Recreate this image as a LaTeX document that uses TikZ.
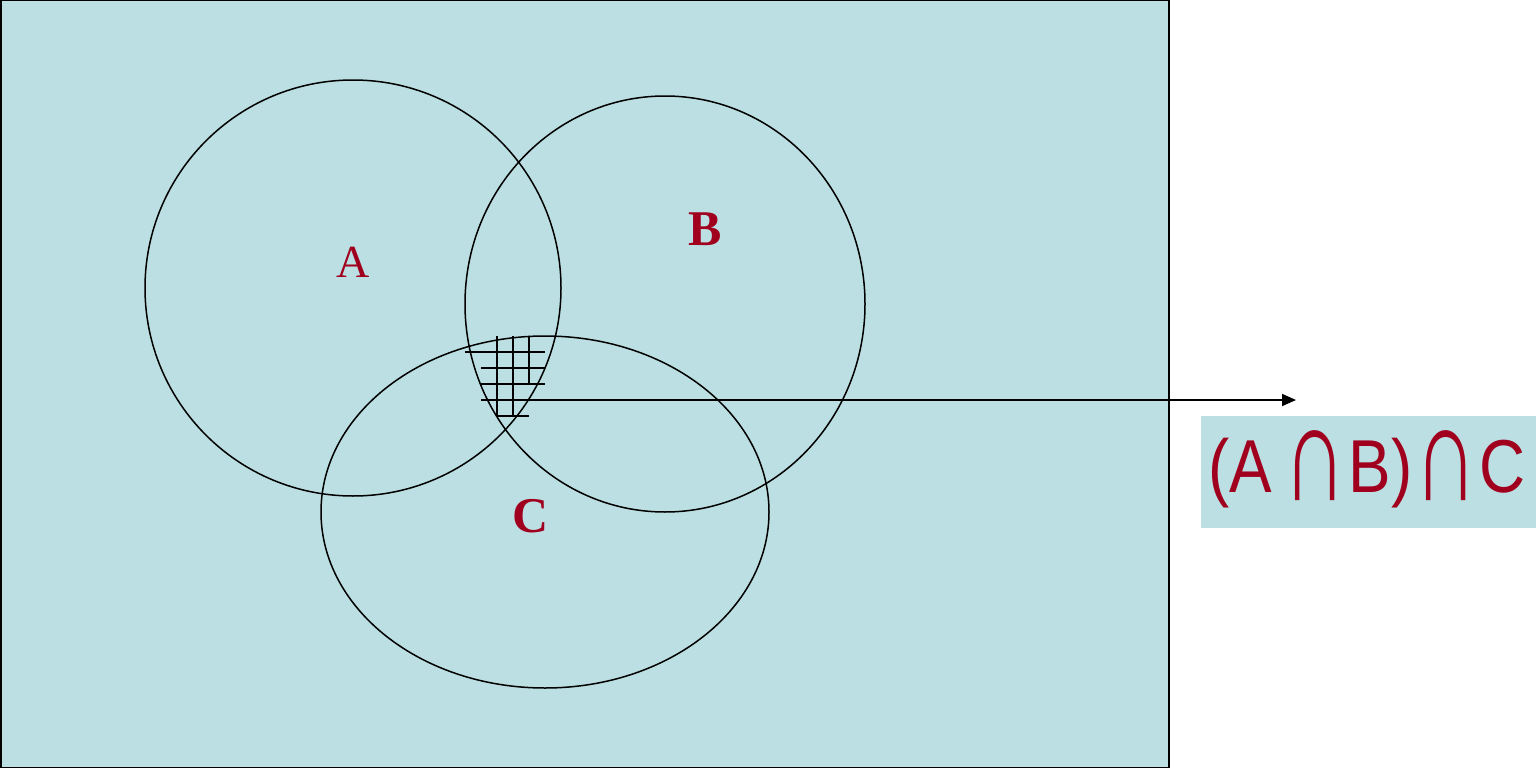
\documentclass[tikz,border=0pt]{standalone}
\usepackage{fontspec}
\setmainfont{Liberation Serif}
\newfontfamily\lsans{Liberation Sans}
\usetikzlibrary{shapes.geometric,arrows.meta}
\definecolor{bgblue}{HTML}{BBDFE2}
\definecolor{setred}{HTML}{A0001E}
\tikzset{
  setline/.style={draw=black,line width=1.5pt},
  hatch/.style={draw=black,line width=1.8pt},
  setlabel/.style={text=setred,inner sep=0pt}
}
\newcommand{\tallcap}{\raisebox{-8pt}{\scalebox{1.38}[1.85]{∩}}}
\begin{document}
\begin{tikzpicture}[x=1pt,y=-1pt]
\useasboundingbox (0,0) rectangle (1536,768);
\fill[bgblue] (0,0) rectangle (1169,768);
\draw[line width=1.5pt] (0.75,0.75) rectangle (1169,767.25);
\fill[bgblue] (1201,416) rectangle (1536,528);
% sets
\node[setline,circle,minimum size=416pt,inner sep=0pt] (setA) at (353,288) {};
\node[setline,ellipse,minimum width=400pt,minimum height=416pt,inner sep=0pt] (setB) at (665,304) {};
\node[setline,ellipse,minimum width=448pt,minimum height=352pt,inner sep=0pt] (setC) at (545,512) {};
% labels
\node[setlabel,font=\fontsize{46}{46}\selectfont] (labA) at (353,262) {A};
\node[setlabel,font=\fontsize{50}{50}\selectfont\bfseries] (labB) at (705,229) {B};
\node[setlabel,font=\fontsize{50}{50}\selectfont\bfseries] (labC) at (531,516) {C};
% hatching
\draw[hatch] (465,352) -- (545,352);
\draw[hatch] (481,368) -- (545,368);
\draw[hatch] (481,384) -- (545,384);
\draw[hatch] (481,400) -- (513,400);
\draw[hatch] (497,416) -- (529,416);
\draw[hatch] (497,336) -- (497,416);
\draw[hatch] (513,336) -- (513,416);
\draw[hatch] (529,336) -- (529,384);
% arrow
\coordinate (hstart) at (513,400);
\coordinate (hend) at (1296,400);
\draw[line width=1.8pt,-{Triangle[length=14pt,width=12pt]}] (hstart) -- (hend);
% result
\node[setlabel,font=\lsans\fontsize{75}{75}\selectfont,anchor=base west] (res) at (1208,492) {\scalebox{0.85}[1]{(A\hspace{14pt}\tallcap\hspace{2pt}B)\hspace{2pt}\tallcap\hspace{2pt}C}};
\end{tikzpicture}
\end{document}
